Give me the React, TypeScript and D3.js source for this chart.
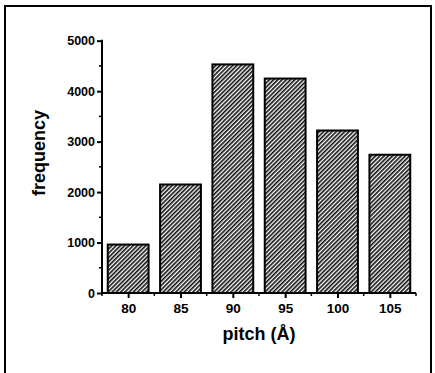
import { useEffect, useRef } from "react";
import * as d3 from "d3";

const pitches = [80, 85, 90, 95, 100, 105];
const frequencies = [960, 2150, 4530, 4250, 3220, 2740];
const yTicks = [0, 1000, 2000, 3000, 4000, 5000];

const App = () => {
  const svgRef = useRef<SVGSVGElement>(null);

  useEffect(() => {
    const svg = d3.select(svgRef.current);
    svg.selectAll("*").remove();

    const width = 435;
    const height = 373;
    svg.attr("width", width).attr("height", height);

    const font = "'Liberation Sans', Arial, sans-serif";

    const defs = svg.append("defs");
    const pattern = defs
      .append("pattern")
      .attr("id", "hatch")
      .attr("patternUnits", "userSpaceOnUse")
      .attr("width", 3)
      .attr("height", 3)
      .attr("patternTransform", "rotate(45)");
    pattern.append("rect").attr("width", 3).attr("height", 3).attr("fill", "white");
    pattern
      .append("line")
      .attr("x1", 0.8)
      .attr("y1", 0)
      .attr("x2", 0.8)
      .attr("y2", 3)
      .attr("stroke", "#111")
      .attr("stroke-width", 1.7);

    // outer frame (top, left, right)
    svg.append("path")
      .attr("d", `M5,${height} L5,6 L431,6 L431,${height}`)
      .attr("fill", "none")
      .attr("stroke", "black")
      .attr("stroke-width", 2);

    const x = d3.scaleLinear().domain([77.5, 107.5]).range([102, 416]);
    const y = d3.scaleLinear().domain([0, 5000]).range([293, 40.7]);

    const g = svg.append("g");

    g.selectAll(".bar")
      .data(pitches)
      .enter()
      .append("rect")
      .attr("class", "bar")
      .attr("x", (d) => x(d - 1.95))
      .attr("width", (d) => x(d + 1.95) - x(d - 1.95))
      .attr("y", (d, i) => y(frequencies[i]))
      .attr("height", (d, i) => y(0) - y(frequencies[i]))
      .attr("fill", "url(#hatch)")
      .attr("stroke", "black")
      .attr("stroke-width", 2);

    // y axis
    const yAxis = g.append("g").attr("transform", `translate(${x(77.5)},0)`);
    yAxis
      .call(d3.axisLeft(y).tickValues(yTicks).tickSize(5).tickPadding(2).tickFormat(d3.format("d")))
      .call((a) => a.select(".domain").remove());
    yAxis.selectAll(".tick line").attr("stroke-width", 2);
    yAxis
      .selectAll(".minor")
      .data(d3.range(500, 5000, 1000))
      .enter()
      .append("line")
      .attr("x1", -3)
      .attr("x2", 0)
      .attr("y1", (d) => y(d))
      .attr("y2", (d) => y(d))
      .attr("stroke", "black")
      .attr("stroke-width", 1.5);
    yAxis
      .append("line")
      .attr("x1", 0)
      .attr("x2", 0)
      .attr("y1", y(0) + 1)
      .attr("y2", y(5000) - 1)
      .attr("stroke", "black")
      .attr("stroke-width", 2);
    yAxis
      .selectAll("text")
      .attr("font-family", font)
      .attr("font-weight", "bold")
      .attr("font-size", 12.5)
      .attr("fill", "black");

    // x axis
    const xAxis = g.append("g").attr("transform", `translate(0,${y(0)})`);
    xAxis
      .call(d3.axisBottom(x).tickValues(pitches).tickSize(5).tickPadding(5).tickFormat(d3.format("d")))
      .call((a) => a.select(".domain").remove());
    xAxis.selectAll(".tick line").attr("stroke-width", 2);
    xAxis
      .selectAll(".minor")
      .data(d3.range(77.5, 108, 5))
      .enter()
      .append("line")
      .attr("x1", (d) => x(d))
      .attr("x2", (d) => x(d))
      .attr("y1", 0)
      .attr("y2", 3)
      .attr("stroke", "black")
      .attr("stroke-width", 1.5);
    xAxis
      .append("line")
      .attr("x1", x(77.5) - 1)
      .attr("x2", x(107.5))
      .attr("y1", 0)
      .attr("y2", 0)
      .attr("stroke", "black")
      .attr("stroke-width", 2);
    xAxis
      .selectAll("text")
      .attr("font-family", font)
      .attr("font-weight", "bold")
      .attr("font-size", 13.5)
      .attr("fill", "black");

    svg.append("text")
      .attr("x", 259)
      .attr("y", 340)
      .attr("text-anchor", "middle")
      .attr("font-family", font)
      .attr("font-weight", "bold")
      .attr("font-size", 18)
      .text("pitch (Å)");

    svg.append("text")
      .attr("transform", "translate(45,153) rotate(-90)")
      .attr("text-anchor", "middle")
      .attr("font-family", font)
      .attr("font-weight", "bold")
      .attr("font-size", 18)
      .text("frequency");
  }, []);

  return (
    <div style={{ position: "absolute", left: 0, top: 0 }}>
      <svg ref={svgRef} style={{ display: "block" }}></svg>
    </div>
  );
};

export default App;
